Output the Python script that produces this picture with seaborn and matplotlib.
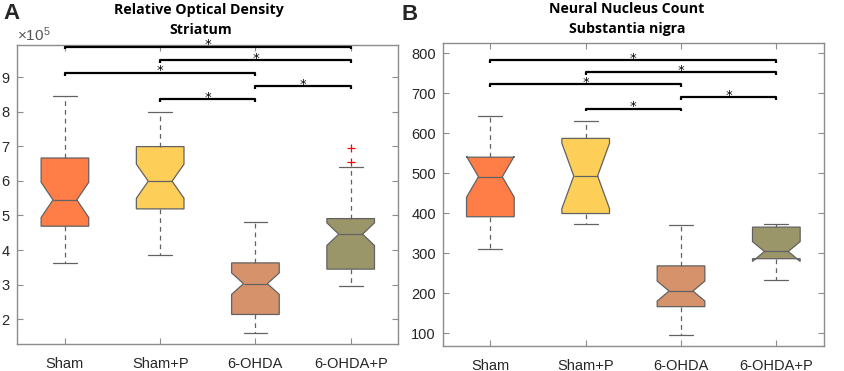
import numpy as np
import pandas as pd
import matplotlib
matplotlib.use("Agg")
import matplotlib.pyplot as plt
import seaborn as sns

# ---------------- data ----------------
categories = ["Sham", "Sham+P", "6-OHDA", "6-OHDA+P"]
colors = ["#FF7D46", "#FDCE58", "#D5926B", "#9B966A"]

# Panel A: relative optical density (units of 1e5)
od_scale = 1e5
od_sham = [3.64, 3.92, 4.05, 4.18, 4.27, 4.36, 4.44, 4.53, 4.61, 4.69,
           4.76, 4.85, 4.93, 5.02, 5.10, 5.19, 5.28, 5.37, 5.45,
           5.56, 5.68, 5.79, 5.93, 6.07, 6.22, 6.38, 6.53, 6.66,
           6.74, 6.85, 6.97, 7.12, 7.30, 7.52, 7.81, 8.13, 8.45]
od_sham_p = [3.86, 4.21, 4.47, 4.68, 4.84, 4.96, 5.05, 5.12, 5.19,
             5.28, 5.39, 5.51, 5.62, 5.74, 5.83, 5.92, 5.99,
             6.11, 6.24, 6.38, 6.51, 6.66, 6.79, 6.90, 6.99,
             7.08, 7.17, 7.28, 7.40, 7.55, 7.71, 7.86, 8.00]
od_ohda = [1.60, 1.68, 1.74, 1.79, 1.84, 1.88, 1.92, 1.96, 1.99, 2.02, 2.05, 2.08, 2.10, 2.12,
           2.14, 2.20, 2.27, 2.33, 2.40, 2.46, 2.52, 2.59, 2.65, 2.72, 2.79, 2.86, 2.92, 2.98,
           3.03, 3.07, 3.12, 3.16, 3.21, 3.25, 3.30, 3.34, 3.39, 3.43, 3.48, 3.52, 3.56, 3.60,
           3.63, 3.68, 3.74, 3.80, 3.86, 3.93, 4.00, 4.08, 4.16, 4.25, 4.35, 4.46, 4.58, 4.70,
           4.82]
od_ohda_p = [2.96, 3.03, 3.09, 3.14, 3.19, 3.23, 3.27, 3.31, 3.35, 3.38, 3.41, 3.43,
             3.45, 3.54, 3.63, 3.72, 3.81, 3.90, 3.99, 4.08, 4.17, 4.26, 4.34, 4.40,
             4.46, 4.50, 4.54, 4.58, 4.62, 4.66, 4.70, 4.74, 4.78, 4.82, 4.85, 4.88,
             4.91, 4.99, 5.08, 5.19, 5.31, 5.45, 5.60, 5.77, 5.95, 6.17,
             6.40, 6.54, 6.94]

# Panel B: neural nucleus count
nn_sham = [310, 335, 356, 372, 384, 391, 412, 436, 458, 476, 491,
           503, 514, 524, 533, 540, 558, 579, 603, 626, 644]
nn_sham_p = [374, 385, 393, 399, 428, 462, 493, 525, 558, 587, 603, 618, 631]
nn_ohda = [94, 112, 126, 136, 144, 150, 155, 159, 162, 164,
           166, 170, 174, 178, 182, 186, 190, 194, 198, 202,
           205, 211, 218, 225, 232, 239, 246, 253, 259, 264,
           268, 275, 283, 291, 300, 310, 321, 334, 349, 361, 371]
nn_ohda_p = [232, 248, 260, 269, 276, 282, 286, 289, 292, 295, 298, 301,
             304, 314, 325, 336, 347, 357, 365, 367, 368, 370, 371, 372, 373]

# significance comparisons (group index pairs, bracket height)
sig_a = [(0, 3, 9.88), (1, 3, 9.48), (0, 2, 9.12), (2, 3, 8.74), (1, 2, 8.36)]
sig_b = [(0, 3, 782.5), (1, 3, 752.5), (0, 2, 722.5), (2, 3, 690), (1, 2, 661.5)]


def long_frame(groups, scale=1.0):
    rows = []
    for cat, vals in zip(categories, groups):
        for v in vals:
            rows.append((cat, v * scale))
    return pd.DataFrame(rows, columns=["group", "value"])


df_a = long_frame([od_sham, od_sham_p, od_ohda, od_ohda_p], od_scale)
df_b = long_frame([nn_sham, nn_sham_p, nn_ohda, nn_ohda_p])

# ---------------- style ----------------
sns.set_theme(style="white")
plt.rcParams["font.family"] = ["Liberation Sans", "DejaVu Sans"]
plt.rcParams["mathtext.fontset"] = "custom"
plt.rcParams["mathtext.rm"] = "Liberation Sans"

W, H = 844, 371
fig = plt.figure(figsize=(W / 100, H / 100), dpi=100)
ax1 = fig.add_axes([17.3 / W, 1 - 344.3 / H, (398.3 - 17.3) / W, (344.3 - 45) / H])
ax2 = fig.add_axes([442.7 / W, 1 - 346 / H, (824 - 442.7) / W, (346 - 43.3) / H])

line_gray = "#626262"
spine_gray = "#8c8c8c"
text_col = "#262626"


def draw_boxes(ax, df, whis):
    sns.boxplot(
        data=df, x="group", y="value", hue="group", order=categories,
        hue_order=categories, palette=colors, saturation=1, legend=False,
        notch=True, whis=whis, width=0.5, linewidth=0.9, linecolor=line_gray,
        whiskerprops=dict(linestyle=(0, (3.8, 3.2)), color=line_gray),
        capprops=dict(color=line_gray),
        medianprops=dict(color=line_gray, linewidth=0.9),
        flierprops=dict(marker="+", markeredgecolor="red", markersize=6,
                        markeredgewidth=0.9),
        ax=ax,
    )
    ax.set_xlim(-0.5, 3.5)
    ax.set_xlabel("")
    ax.set_ylabel("")
    for s in ax.spines.values():
        s.set_visible(True)
        s.set_color(spine_gray)
        s.set_linewidth(1.0)
    ax.tick_params(axis="both", which="both", direction="in", length=4,
                   width=0.8, color=spine_gray, labelsize=10.5,
                   labelcolor=text_col, top=True, right=True,
                   bottom=True, left=True)
    ax.tick_params(axis="x", pad=9)
    ax.tick_params(axis="y", pad=5)


def draw_sig(ax, sig, drop, gap):
    for i, j, y in sig:
        ax.plot([i, i, j, j], [y - drop, y, y, y - drop], color="black",
                lw=1.6, solid_capstyle="butt", clip_on=False, zorder=5)
        ax.text((i + j) / 2, y + gap, "*", ha="center", va="center",
                fontsize=9.5, color="black", family="DejaVu Sans", zorder=6)


draw_boxes(ax1, df_a, 1.05)
ax1.set_ylim(1.278 * od_scale, 9.925 * od_scale)
ax1.set_yticks(np.arange(2, 10) * od_scale)
ax1.ticklabel_format(axis="y", style="sci", scilimits=(0, 0), useMathText=True)
ax1.yaxis.get_offset_text().set_fontsize(11)
ax1.yaxis.get_offset_text().set_color("#555555")
draw_sig(ax1, [(i, j, y * od_scale) for i, j, y in sig_a], 0.08 * od_scale, 0.055 * od_scale)

draw_boxes(ax2, df_b, 1.5)
ax2.set_ylim(67.5, 825)
ax2.set_yticks(np.arange(100, 801, 100))
draw_sig(ax2, sig_b, 7.0, 5.5)

# titles and panel letters
tfont = dict(family=["Open Sans", "DejaVu Sans"], fontweight="bold",
             fontsize=10.2, color="black", ha="center", va="center")
fig.text(199 / W, 1 - 10 / H, "Relative Optical Density", **tfont)
fig.text(201 / W, 1 - 29.5 / H, "Striatum", **tfont)
fig.text(627 / W, 1 - 9 / H, "Neural Nucleus Count", **tfont)
fig.text(627 / W, 1 - 28.5 / H, "Substantia nigra", **tfont)
fig.text(12 / W, 1 - 13.5 / H, "A", fontsize=16, fontweight="bold",
         ha="center", va="center")
fig.text(410 / W, 1 - 15 / H, "B", fontsize=16, fontweight="bold",
         ha="center", va="center")

fig.savefig("out.png", dpi=100)
